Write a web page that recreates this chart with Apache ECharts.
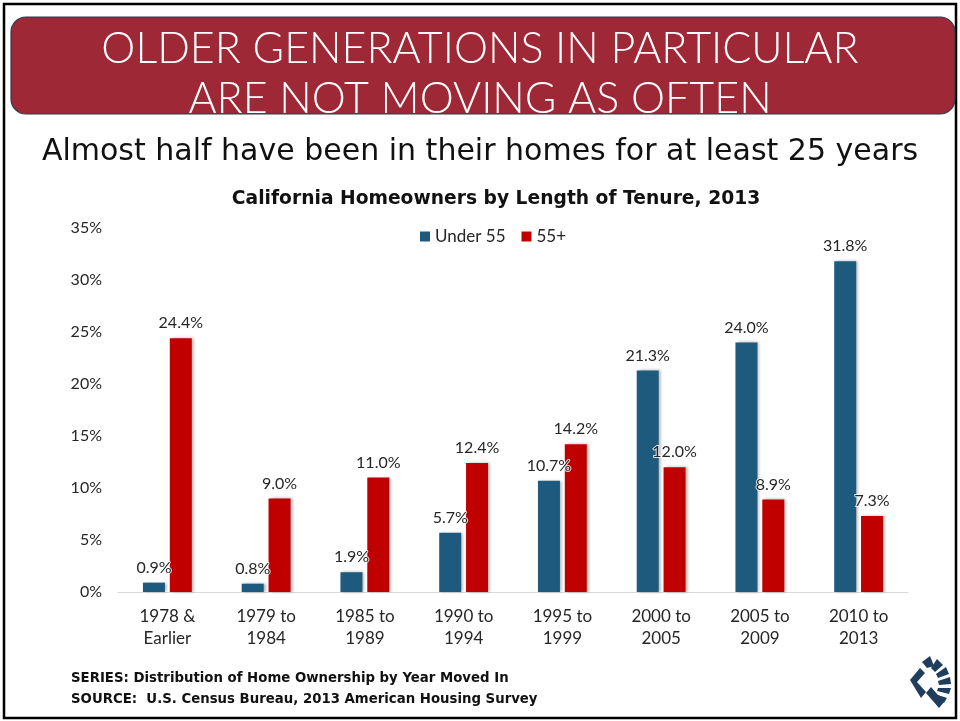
<!DOCTYPE html>
<html>
<head>
<meta charset="utf-8">
<script src="https://cdn.jsdelivr.net/npm/echarts@6/dist/echarts.min.js"></script>
<style>
  html, body { margin: 0; padding: 0; background: #fff; }
  #chart { width: 960px; height: 721px; }
</style>
</head>
<body>
<div id="chart"></div>
<script>
// data
var categories = ["1978 &\nEarlier", "1979 to\n1984", "1985 to\n1989", "1990 to\n1994",
  "1995 to\n1999", "2000 to\n2005", "2005 to\n2009", "2010 to\n2013"];
var under55 = [0.9, 0.8, 1.9, 5.7, 10.7, 21.3, 24.0, 31.8];
var over55 = [24.4, 9.0, 11.0, 12.4, 14.2, 12.0, 8.9, 7.3];
var yTicks = [0, 5, 10, 15, 20, 25, 30, 35];

var font = "Lato, 'Noto Sans', sans-serif";
var wide = "'DejaVu Sans', sans-serif";
var blue = "#1d5a7e", red = "#c00000", navy = "#1f3d5c";

var myChart = echarts.init(document.getElementById("chart"));

function barLabel() {
  return {
    show: true,
    position: "top",
    distance: 7,
    fontFamily: font,
    fontSize: 16,
    color: "#262626",
    textBorderColor: "rgba(255,255,255,0.8)",
    textBorderWidth: 2,
    formatter: function (p) { return p.value.toFixed(1) + "%"; }
  };
}

var options = {
  backgroundColor: "#fff",
  animation: false,
  title: [
    {
      text: "OLDER GENERATIONS IN PARTICULAR\nARE NOT MOVING AS OFTEN",
      left: "center", top: 19,
      textStyle: { color: "#fff", fontFamily: font, fontWeight: 300, fontSize: 43, lineHeight: 50 }
    },
    {
      text: "Almost half have been in their homes for at least 25 years",
      left: "center", top: 132,
      textStyle: { color: "#111", fontFamily: wide, fontWeight: "normal", fontSize: 30 }
    },
    {
      text: "California Homeowners by Length of Tenure, 2013",
      left: 491, textAlign: "center", top: 185,
      textStyle: { color: "#111", fontFamily: wide, fontWeight: "bold", fontSize: 18.7 }
    },
    {
      text: "SERIES: Distribution of Home Ownership by Year Moved In\nSOURCE:  U.S. Census Bureau, 2013 American Housing Survey",
      left: 66, top: 663,
      textStyle: { color: "#111", fontFamily: wide, fontWeight: "bold", fontSize: 13.3, lineHeight: 21 }
    }
  ],
  legend: {
    top: 223, left: 415,
    itemWidth: 10, itemHeight: 10, itemGap: 16,
    icon: "rect",
    textStyle: { fontFamily: font, fontSize: 17, color: "#262626" },
    data: ["Under 55", "55+"]
  },
  grid: { left: 118, right: 52, top: 228, bottom: 129, containLabel: false },
  xAxis: {
    type: "category",
    data: categories,
    axisLine: { lineStyle: { color: "#d9d9d9", width: 1 } },
    axisTick: { show: false },
    axisLabel: { fontFamily: font, fontSize: 17, color: "#262626", lineHeight: 22, margin: 14 }
  },
  yAxis: {
    type: "value",
    min: yTicks[0], max: yTicks[yTicks.length - 1], interval: 5,
    axisLine: { show: false },
    axisTick: { show: false },
    splitLine: { show: false },
    axisLabel: { fontFamily: font, fontSize: 16, color: "#262626", margin: 16, formatter: "{value}%" }
  },
  series: [
    {
      name: "Under 55", type: "bar", data: under55,
      barWidth: 22, barGap: "22%",
      itemStyle: { color: blue, shadowColor: "rgba(0,0,0,0.3)", shadowBlur: 3, shadowOffsetX: 2 },
      label: barLabel()
    },
    {
      name: "55+", type: "bar", data: over55,
      barWidth: 22,
      itemStyle: { color: red, shadowColor: "rgba(0,0,0,0.3)", shadowBlur: 3, shadowOffsetX: 2 },
      label: barLabel()
    }
  ],
  graphic: [
    // slide border
    { type: "rect", z: -1, shape: { x: 4, y: 4, width: 952, height: 714 },
      style: { fill: "none", stroke: "#000", lineWidth: 2.5 } },
    // title banner
    { type: "rect", z: -1, shape: { x: 11, y: 17, width: 944, height: 97, r: 15 },
      style: { fill: "#9e2835", stroke: "#2d3b4c", lineWidth: 1.2 } },
    // logo, rough shape
    { type: "group", left: 910, top: 656, children: [
      { type: "polygon", shape: { points: [[0, 24], [10, 12], [15, 17], [7, 26], [16, 36], [11, 42]] }, style: { fill: navy } },
      { type: "polygon", shape: { points: [[16, 37], [21, 31], [34, 46], [29, 52]] }, style: { fill: navy } },
      { type: "polygon", shape: { points: [[12, 6], [20, 0], [24, 10], [17, 12]] }, style: { fill: navy } },
      { type: "polygon", shape: { points: [[21, 12], [27, 3], [33, 9], [25, 16]] }, style: { fill: navy } },
      { type: "polygon", shape: { points: [[26, 18], [36, 11], [39, 18], [28, 22]] }, style: { fill: navy } },
      { type: "polygon", shape: { points: [[28, 25], [40, 21], [41, 28], [29, 29]] }, style: { fill: navy } },
      { type: "polygon", shape: { points: [[28, 32], [41, 32], [39, 38], [27, 35]] }, style: { fill: navy } },
      { type: "polygon", shape: { points: [[25, 38], [37, 42], [34, 47], [23, 40]] }, style: { fill: navy } }
    ] }
  ]
};
myChart.setOption(options);
window.addEventListener("resize", function () { myChart.resize(); });
</script>
</body>
</html>
